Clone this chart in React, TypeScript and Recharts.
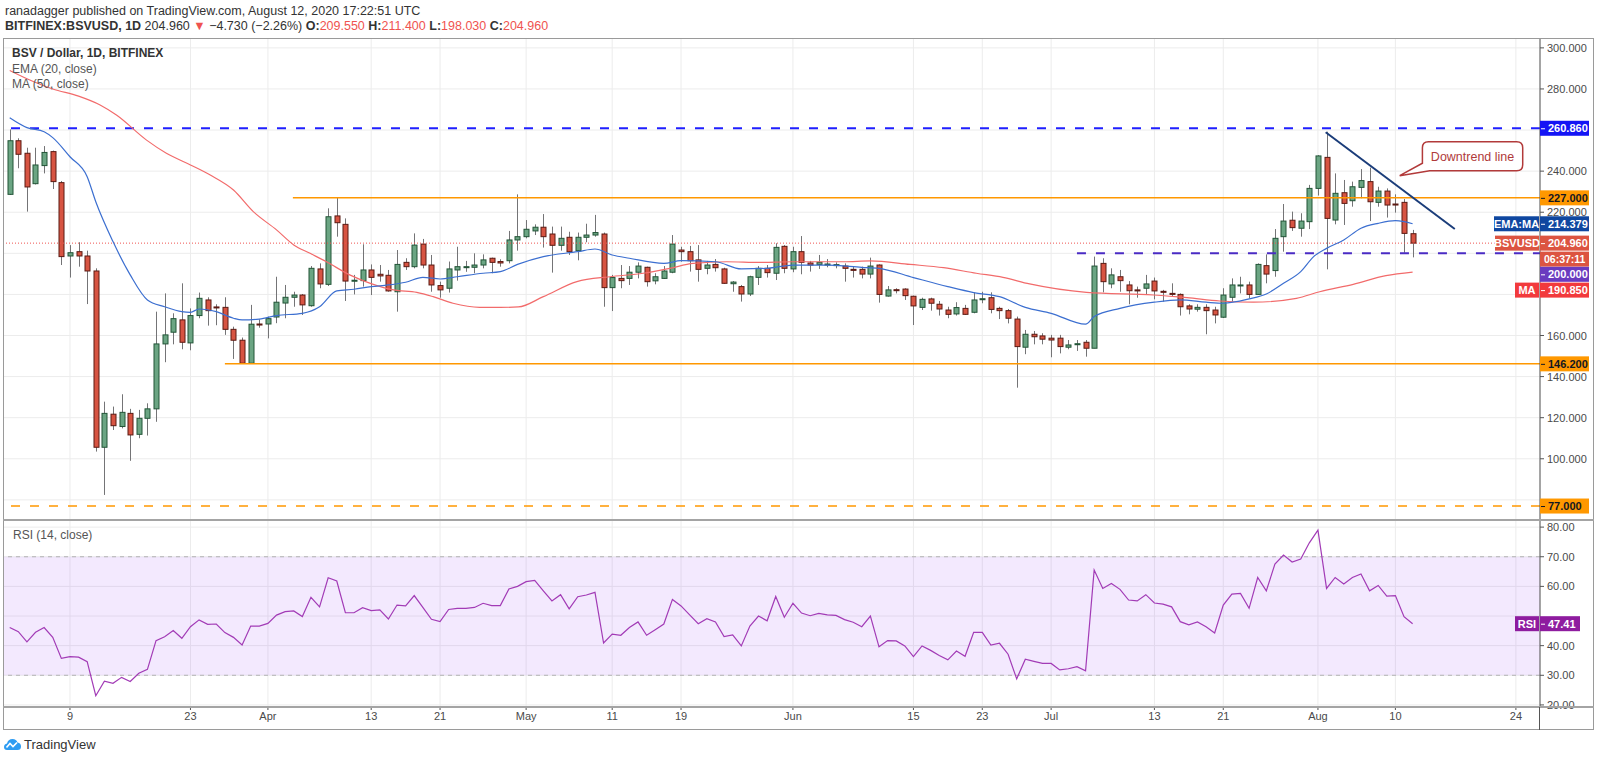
import React from 'react';
import {
  ComposedChart,
  Bar,
  Line,
  XAxis,
  YAxis,
  CartesianGrid,
  ReferenceLine,
  ReferenceDot,
  ReferenceArea,
} from 'recharts';

const FONT = "'Liberation Sans Narrow','Arial Narrow','Liberation Sans',Arial,sans-serif";

// day numbers count from 1 Mar 2020, first candle is 2 Mar
const firstDay = 1;
const X_MIN = 0.22;
const X_MAX = 178.8;

const opens = [
  228.7, 254.8, 248.7, 233.9, 242.7, 249.5, 234.4, 198.7, 200.8, 198.7,
  191.4, 105.6, 121.7, 115.7, 122.1, 111.9, 119.7, 124.3, 155.9, 161.6,
  167.6, 156.4, 169.7, 177.3, 173.9, 173.7, 163.0, 157.7, 146.5, 165.6,
  165.6, 169.0, 175.8, 178.6, 179.7, 174.5, 192.4, 184.9, 218.2, 214.1,
  186.5, 186.7, 191.9, 189.8, 189.3, 181.3, 195.6, 193.5, 204.5, 194.3,
  184.3, 183.0, 191.9, 193.2, 193.2, 194.3, 197.6, 196.0, 196.4, 206.5,
  208.1, 210.9, 212.7, 209.4, 203.9, 207.8, 201.3, 207.8, 208.9, 209.4,
  183.3, 187.8, 187.8, 190.8, 193.2, 186.6, 187.8, 190.8, 201.6, 200.8,
  196.8, 192.7, 194.6, 192.4, 185.2, 183.8, 180.2, 188.3, 192.7, 190.3,
  203.4, 192.4, 200.8, 195.3, 194.6, 194.6, 194.2, 193.8, 192.2, 192.2,
  189.9, 194.3, 179.2, 182.3, 182.6, 179.1, 173.7, 177.8, 175.2, 172.4,
  170.5, 173.2, 171.3, 177.6, 178.4, 173.2, 172.1, 168.0, 154.3, 160.6,
  159.8, 158.7, 158.7, 154.3, 155.9, 156.7, 153.8, 195.1, 185.1, 188.6,
  184.6, 182.2, 183.0, 186.5, 181.5, 180.5, 180.0, 174.4, 172.8, 173.7,
  172.4, 168.9, 178.6, 184.4, 184.6, 180.0, 194.0, 191.6, 208.1, 216.1,
  212.2, 215.4, 231.6, 246.7, 216.2, 229.5, 225.6, 232.1, 234.9, 224.8,
  230.3, 224.0, 224.8, 209.55,
];

const highs = [
  260.3, 256.0, 251.4, 251.4, 252.2, 250.0, 235.2, 204.0, 205.4, 201.3,
  192.7, 127.8, 125.4, 131.4, 124.3, 123.8, 127.0, 171.6, 180.5, 170.8,
  185.4, 173.2, 180.9, 178.6, 175.2, 178.6, 164.3, 159.0, 174.9, 167.9,
  169.2, 188.6, 184.6, 181.3, 180.2, 193.8, 195.1, 221.9, 227.1, 217.0,
  189.5, 204.4, 194.6, 194.3, 191.9, 201.6, 197.6, 209.7, 207.0, 199.2,
  186.2, 196.0, 203.2, 196.3, 200.0, 199.5, 197.9, 197.1, 210.9, 228.7,
  216.2, 214.1, 219.1, 213.0, 213.0, 210.5, 210.1, 214.4, 218.7, 210.1,
  189.5, 194.3, 193.8, 195.6, 193.5, 190.3, 193.8, 208.9, 203.2, 203.6,
  204.0, 196.3, 197.2, 193.0, 186.5, 184.6, 189.1, 193.8, 194.3, 204.9,
  204.0, 203.2, 208.4, 196.3, 199.2, 197.2, 195.6, 195.1, 193.5, 193.5,
  197.9, 194.6, 184.1, 183.0, 183.0, 179.4, 178.4, 178.4, 176.8, 174.0,
  176.2, 174.9, 180.9, 181.3, 181.0, 174.0, 172.9, 169.2, 162.7, 162.2,
  161.1, 160.3, 160.3, 157.8, 157.8, 157.8, 198.4, 197.6, 192.7, 191.9,
  186.5, 183.8, 189.5, 188.2, 182.2, 185.4, 180.5, 175.2, 175.2, 175.2,
  174.0, 183.0, 187.8, 188.6, 186.2, 195.1, 199.5, 211.8, 224.0, 220.3,
  219.5, 233.3, 247.8, 259.2, 238.9, 235.7, 234.9, 241.0, 241.7, 232.4,
  231.6, 228.7, 226.4, 211.4,
];

const lows = [
  228.4, 241.4, 220.3, 233.5, 238.9, 231.3, 194.3, 188.2, 193.5, 175.3,
  103.5, 82.4, 114.0, 114.8, 99.0, 110.0, 111.3, 118.0, 147.0, 155.7,
  153.3, 152.8, 168.4, 164.8, 165.0, 160.3, 148.6, 146.2, 146.2, 163.8,
  158.6, 166.0, 168.4, 174.0, 170.0, 174.0, 183.0, 184.1, 208.1, 176.8,
  180.0, 183.8, 179.7, 186.2, 181.3, 171.6, 191.9, 192.7, 192.7, 181.3,
  178.4, 180.9, 186.7, 191.0, 190.3, 192.7, 190.3, 193.5, 195.1, 201.3,
  207.3, 208.9, 202.8, 190.6, 201.3, 199.2, 196.6, 205.4, 208.1, 174.0,
  171.9, 183.0, 184.6, 187.8, 183.8, 184.9, 187.5, 190.3, 195.9, 191.1,
  186.2, 189.8, 191.1, 185.1, 181.3, 176.5, 179.2, 184.6, 188.2, 187.0,
  190.3, 190.8, 189.8, 191.1, 192.4, 193.2, 192.7, 186.2, 188.2, 187.8,
  187.8, 176.0, 178.9, 180.5, 177.3, 165.1, 172.4, 172.1, 169.7, 168.4,
  169.7, 170.0, 170.8, 175.7, 170.8, 168.0, 165.9, 134.6, 150.9, 155.7,
  155.7, 149.4, 151.3, 153.3, 152.5, 149.7, 153.8, 181.0, 183.0, 181.3,
  175.2, 178.4, 179.7, 177.6, 176.5, 178.9, 169.7, 170.3, 171.6, 160.6,
  165.9, 168.5, 176.5, 180.5, 178.1, 179.7, 185.4, 188.6, 200.8, 210.9,
  208.1, 211.8, 228.1, 192.2, 214.1, 213.8, 222.7, 226.8, 215.7, 222.7,
  217.4, 219.8, 200.3, 198.03,
];

const closes = [
  254.8, 248.2, 232.3, 243.0, 249.1, 234.9, 198.4, 200.3, 198.7, 191.4,
  105.6, 122.1, 116.1, 122.6, 111.6, 119.7, 124.3, 155.9, 160.3, 168.2,
  156.7, 169.7, 178.1, 172.1, 173.6, 163.0, 157.7, 146.5, 165.5, 165.1,
  168.2, 176.2, 178.6, 179.7, 174.9, 192.7, 185.1, 217.8, 214.9, 186.5,
  186.9, 191.9, 188.3, 189.0, 181.7, 194.6, 193.5, 204.0, 194.3, 184.6,
  182.2, 192.4, 193.5, 193.5, 194.3, 196.8, 195.6, 195.3, 206.5, 208.1,
  211.7, 212.7, 208.1, 203.9, 207.3, 200.8, 207.8, 208.9, 210.1, 183.3,
  188.2, 186.7, 190.8, 193.8, 186.2, 188.6, 191.4, 204.5, 200.8, 196.4,
  192.2, 194.3, 193.0, 185.4, 186.0, 180.2, 188.6, 192.7, 190.6, 202.9,
  192.7, 200.8, 195.6, 194.3, 195.6, 194.8, 194.5, 192.7, 191.7, 189.9,
  193.8, 180.0, 182.2, 182.1, 179.4, 174.4, 177.6, 175.7, 172.9, 170.3,
  173.6, 170.3, 177.3, 177.9, 172.7, 172.1, 168.4, 154.6, 160.6, 159.4,
  158.2, 157.8, 154.6, 155.4, 156.0, 153.8, 193.8, 186.2, 189.5, 186.7,
  181.8, 181.7, 185.1, 181.7, 181.3, 180.0, 174.0, 172.9, 173.7, 172.1,
  170.0, 179.7, 184.6, 184.6, 180.0, 194.6, 189.9, 207.3, 215.7, 212.5,
  215.7, 231.6, 247.4, 217.0, 229.2, 224.3, 232.4, 235.4, 225.1, 230.3,
  223.5, 223.5, 209.7, 204.96,
];

const rsi14 = [
  46.1, 44.7, 41.3, 44.5, 46.1, 42.8, 35.7, 36.3, 36.1, 34.6,
  23.1, 28.0, 27.3, 29.3, 27.9, 30.7, 32.0, 41.7, 43.0, 45.1,
  42.5, 46.4, 48.7, 47.2, 47.3, 44.4, 42.8, 40.2, 46.6, 46.6,
  47.5, 50.3, 51.5, 51.7, 49.8, 56.3, 53.1, 62.9, 61.8, 51.1,
  51.1, 52.8, 51.8, 52.1, 49.0, 53.7, 53.4, 56.9, 52.9, 48.9,
  48.1, 52.2, 52.6, 52.6, 52.9, 54.3, 53.5, 53.5, 59.1, 60.0,
  61.6, 62.0, 58.5, 55.1, 57.2, 52.4, 56.5, 57.1, 58.0, 40.9,
  43.9, 43.5, 46.1, 48.0, 43.5, 45.4, 47.3, 55.6, 53.4, 50.4,
  47.4, 49.1, 48.0, 43.1, 43.6, 39.9, 46.6, 50.0, 48.4, 56.6,
  49.6, 54.3, 51.0, 50.1, 50.9, 50.4, 50.2, 48.8, 47.9, 46.4,
  50.0, 39.6, 41.7, 41.6, 39.9, 36.3, 39.9, 38.4, 36.7, 35.2,
  38.2, 36.4, 44.5, 44.5, 40.2, 40.8, 37.1, 28.8, 35.4, 34.7,
  34.0, 34.0, 31.8, 32.2, 32.9, 31.5, 65.5, 59.3, 61.0, 59.0,
  55.4, 55.1, 57.2, 54.4, 54.0, 53.1, 48.1, 47.0, 48.0, 46.4,
  44.3, 53.7, 57.4, 57.6, 52.6, 63.0, 58.5, 67.5, 70.6, 68.2,
  69.2, 74.7, 79.0, 59.3, 63.0, 60.8, 63.0, 64.2, 58.5, 60.3,
  56.7, 56.9, 49.8, 47.41,
];

const ema20 = [
  [1, 266], [3, 261.2], [5, 259.2], [6, 256.3], [8, 247], [10, 237.3], [11, 225.1],
  [13, 205.7], [15, 189.5], [17, 177.3], [19, 174], [21, 171.6], [22, 171.3], [23, 172.9],
  [25, 171.6], [27, 168.4], [28, 167.6], [30, 168], [32, 169.7], [35, 170.8], [37, 174],
  [39, 181.7], [41, 182.5], [43, 183.8], [45, 184.6], [47, 185.9], [49, 188.3], [51, 187.5],
  [53, 188.6], [56, 190.3], [58, 191.1], [60, 194.6], [63, 198.4], [67, 200.8], [69, 202.1],
  [71, 199.2], [73, 197.6], [77, 195.1], [79, 196.4], [83, 195.9], [86, 192.4], [89, 192.7],
  [92, 194.3], [96, 194.3], [100, 193.2], [102, 192.7], [106, 188.2], [110, 183.8],
  [113, 180.9], [116, 178.9], [119, 173.7], [122, 170.8], [126, 165.5], [127, 169.2],
  [130, 173.2], [134, 176.2], [137, 177.3], [140, 176.2], [142, 175.7], [145, 177.8],
  [147, 180.2], [149, 185.4], [151, 191.1], [152.5, 198.4], [154, 202.4], [156, 206.5],
  [158, 212.2], [160, 214.6], [162, 215.9], [163, 215.4], [164, 214.379],
];

const ma50 = [
  [1, 289], [3, 285], [6, 280], [9, 276.5], [11.5, 272.2], [13.4, 267.3], [16.9, 255.1],
  [19.2, 248.7], [22, 243], [24.3, 238.1], [27, 230.8], [29.3, 220.3], [32, 211.4],
  [34, 204.1], [35.9, 200], [37.8, 195.9], [40.5, 189.5], [42.9, 185.4], [45.6, 182.2],
  [48.3, 181], [50.2, 178.9], [52.5, 175.7], [55.6, 173.7], [58, 173.7], [60.1, 173.9],
  [63, 178.9], [66.9, 186.2], [70.7, 188.6], [74.6, 190.3], [77.7, 192.7], [80.4, 195.1],
  [84.3, 195.9], [88.2, 195.6], [92, 195.9], [97.9, 195.9], [101, 196.3], [105.6, 194.6],
  [109.5, 193], [113.3, 190.3], [116.4, 188.3], [119.5, 185.1], [126.1, 181], [133.9, 179.7],
  [137.8, 178.4], [141.6, 176.8], [145.5, 176.2], [150.5, 178.1], [153.2, 181.3],
  [157.1, 184.9], [160.9, 189.1], [164, 190.85],
];

const xTicks = [8, 22, 31, 43, 51, 61, 71, 79, 92, 106, 114, 122, 134, 142, 153, 162, 176];
const xTickLabels = ['9', '23', 'Apr', '13', '21', 'May', '11', '19', 'Jun', '15', '23', 'Jul', '13', '21', 'Aug', '10', '24'];
const priceTicks = [80, 100, 120, 140, 160, 180, 200, 220, 240, 260, 280, 300];
const rsiTicks = [20, 30, 40, 50, 60, 70, 80];
// scale labels covered by the coloured price tags
const coveredPriceTicks = [80, 180, 200, 260];
const coveredRsiTicks = [50];

const resistanceTop = 260.86;
const rangeTop = 227;
const rangeBottom = 146.2;
const pivot = 200;
const marchLow = 77;
const lastClose = 204.96;
const lastEma = 214.379;
const lastMa = 190.85;
const lastRsi = 47.41;
const downtrend = [
  { x: 153.9, y: 258.9 },
  { x: 168.9, y: 211.8 },
];

const rows = opens.map((o, i) => ({
  d: firstDay + i,
  o,
  h: highs[i],
  l: lows[i],
  c: closes[i],
  range: [lows[i], highs[i]],
  rsi: rsi14[i],
}));
const emaData = ema20.map(([d, v]) => ({ d, v }));
const maData = ma50.map(([d, v]) => ({ d, v }));

const UP = '#6ba583';
const UP_EDGE = '#225437';
const DOWN = '#d75442';
const DOWN_EDGE = '#5b1a13';

const Candle = (props: any) => {
  const { x, y, width, height, payload } = props;
  if (!payload) return null;
  const { o, h, l, c } = payload;
  const k = h - l > 0 ? height / (h - l) : 0;
  const py = (v: number) => y + (h - v) * k;
  const top = py(Math.max(o, c));
  const bot = py(Math.min(o, c));
  const cx = Math.round(x + width / 2) + 0.5;
  const up = c >= o;
  return (
    <g>
      <line x1={cx} x2={cx} y1={y} y2={y + height} stroke="#747476" strokeWidth={1} />
      <rect
        x={cx - 2.5}
        y={top}
        width={5}
        height={Math.max(bot - top, 1)}
        fill={up ? UP : DOWN}
        stroke={up ? UP_EDGE : DOWN_EDGE}
        strokeWidth={1}
      />
    </g>
  );
};

const scaleTick = (covered: number[], digits: number) => (p: any) => {
  const v = p.payload.value;
  if (covered.includes(v)) return null;
  return (
    <g>
      <line x1={p.x - 6} x2={p.x - 2} y1={p.y} y2={p.y} stroke="#555" />
      <text x={p.x + 1} y={p.y} dy={4} fill="#4a4a4a" fontSize={11} style={{ fontFamily: FONT }}>
        {v.toFixed(digits)}
      </text>
    </g>
  );
};

// price tag on the right scale, optional name tag left of the axis
const badge =
  (text: string, bg: string, fg: string, dy = 0, w = 49, tag?: string, tagW = 0, mark = true) =>
  (p: any) => {
    const x0 = p.cx;
    const y0 = p.cy + dy;
    return (
      <g style={{ fontFamily: FONT }}>
        {tag && (
          <g>
            <rect x={x0 - tagW - 1} y={y0 - 7.5} width={tagW} height={15} fill={bg} />
            <text x={x0 - tagW / 2 - 1} y={y0 + 4} fill="#fff" fontSize={11} fontWeight={700} textAnchor="middle">
              {tag}
            </text>
          </g>
        )}
        <rect x={x0} y={y0 - 7.5} width={w} height={15} fill={bg} />
        {mark && <line x1={x0 + 1} x2={x0 + 5} y1={y0 + 0.5} y2={y0 + 0.5} stroke={fg} />}
        <text x={x0 + (mark ? 8 : 4)} y={y0 + 4} fill={fg} fontSize={mark ? 11 : 10.5} fontWeight={600}>
          {text}
        </text>
      </g>
    );
  };

const Callout = (p: any) => {
  const { cx, cy } = p;
  const L = 22.7;
  const R = 123;
  const T = -34;
  const B = -5;
  const r = 6;
  const d = `M${cx + L},${cy + T + r} Q${cx + L},${cy + T} ${cx + L + r},${cy + T} H${cx + R - r} Q${cx + R},${cy + T} ${cx + R},${cy + T + r} V${cy + B - r} Q${cx + R},${cy + B} ${cx + R - r},${cy + B} H${cx + 30} L${cx},${cy} L${cx + L},${cy - 12.4} Z`;
  return (
    <g>
      <path d={d} fill="#fff" stroke="#b23a3a" strokeWidth={1.5} />
      <text
        x={cx + (L + R) / 2}
        y={cy + (T + B) / 2 + 4.5}
        fill="#b03a3a"
        fontSize={12.5}
        textAnchor="middle"
        style={{ fontFamily: FONT }}
      >
        Downtrend line
      </text>
    </g>
  );
};

const axisTick = { fill: '#4a4a4a', fontSize: 11, fontFamily: FONT };

export default function App() {
  return (
    <div style={{ position: 'relative', width: 1600, height: 763, background: '#fff', fontFamily: FONT, color: '#333' }}>
      <style>{'body{margin:0}'}</style>

      <div style={{ position: 'absolute', left: 5, top: 4, fontSize: 12.5, whiteSpace: 'nowrap' }}>
        ranadagger published on TradingView.com, August 12, 2020 17:22:51 UTC
      </div>
      <div style={{ position: 'absolute', left: 5, top: 19, fontSize: 12.5, whiteSpace: 'nowrap' }}>
        <b>BITFINEX:BSVUSD, 1D</b> 204.960 <span style={{ color: '#ef5350' }}>▼</span> −4.730 (−2.26%){' '}
        <b>O:</b><span style={{ color: '#ef5350' }}>209.550</span> <b>H:</b>
        <span style={{ color: '#ef5350' }}>211.400</span> <b>L:</b>
        <span style={{ color: '#ef5350' }}>198.030</span> <b>C:</b>
        <span style={{ color: '#ef5350' }}>204.960</span>
      </div>

      <div style={{ position: 'absolute', left: 3, top: 38 }}>
        <ComposedChart width={1591} height={482} data={rows} margin={{ top: 0, right: 0, bottom: 0, left: 0 }}>
          <CartesianGrid stroke="#ececec" />
          <XAxis dataKey="d" type="number" domain={[X_MIN, X_MAX]} ticks={xTicks} allowDataOverflow hide />
          <YAxis
            orientation="right"
            width={54}
            type="number"
            domain={[70.2, 304.8]}
            ticks={priceTicks}
            interval={0}
            allowDataOverflow
            tick={scaleTick(coveredPriceTicks, 3)}
            tickSize={4}
            tickLine={false}
            axisLine={{ stroke: '#555' }}
          />
          <ReferenceLine y={resistanceTop} stroke="#1f1fff" strokeWidth={2} strokeDasharray="9 10" />
          <ReferenceLine y={marchLow} stroke="#ff9800" strokeWidth={1.5} strokeDasharray="9 10" />
          <ReferenceLine
            segment={[{ x: 33.9, y: rangeTop }, { x: X_MAX, y: rangeTop }]}
            stroke="#ff9800"
            strokeWidth={1.5}
          />
          <ReferenceLine
            segment={[{ x: 26, y: rangeBottom }, { x: X_MAX, y: rangeBottom }]}
            stroke="#ff9800"
            strokeWidth={1.5}
          />
          <ReferenceLine
            segment={[{ x: 125, y: pivot }, { x: X_MAX, y: pivot }]}
            stroke="#4a2bc4"
            strokeWidth={2}
            strokeDasharray="9 10"
          />
          <ReferenceLine y={lastClose} stroke="#ef5350" strokeWidth={1} strokeDasharray="1 2" />
          <Line data={maData} dataKey="v" type="monotone" stroke="#f26b6b" strokeWidth={1.2} dot={false} isAnimationActive={false} />
          <Line data={emaData} dataKey="v" type="monotone" stroke="#3c6fd0" strokeWidth={1.2} dot={false} isAnimationActive={false} />
          <Bar dataKey="range" barSize={6} shape={<Candle />} isAnimationActive={false} />
          <ReferenceLine segment={downtrend} stroke="#1b3d7a" strokeWidth={2} />
          <ReferenceDot x={162.5} y={237.8} r={0} ifOverflow="visible" shape={<Callout />} />
          <ReferenceDot x={X_MAX} y={resistanceTop} r={0} ifOverflow="visible" shape={badge('260.860', '#1414f5', '#fff')} />
          <ReferenceDot x={X_MAX} y={rangeTop} r={0} ifOverflow="visible" shape={badge('227.000', '#ff9800', '#131722')} />
          <ReferenceDot x={X_MAX} y={lastEma} r={0} ifOverflow="visible" shape={badge('214.379', '#0f47a0', '#fff', 0, 49, 'EMA:MA', 45)} />
          <ReferenceDot x={X_MAX} y={lastClose} r={0} ifOverflow="visible" shape={badge('204.960', '#dc5441', '#fff', 0, 49, 'BSVUSD', 44)} />
          <ReferenceDot x={X_MAX} y={lastClose} r={0} ifOverflow="visible" shape={badge('06:37:11', '#dc5441', '#fff', 16, 49, undefined, 0, false)} />
          <ReferenceDot x={X_MAX} y={pivot} r={0} ifOverflow="visible" shape={badge('200.000', '#6a3bbf', '#fff', 21)} />
          <ReferenceDot x={X_MAX} y={lastMa} r={0} ifOverflow="visible" shape={badge('190.850', '#f23a3c', '#fff', 18, 49, 'MA', 24)} />
          <ReferenceDot x={X_MAX} y={rangeBottom} r={0} ifOverflow="visible" shape={badge('146.200', '#ff9800', '#131722')} />
          <ReferenceDot x={X_MAX} y={marchLow} r={0} ifOverflow="visible" shape={badge('77.000', '#ff9800', '#131722')} />
        </ComposedChart>
      </div>

      <div style={{ position: 'absolute', left: 3, top: 520 }}>
        <ComposedChart width={1591} height={210} data={rows} margin={{ top: 0, right: 0, bottom: 0, left: 0 }}>
          <CartesianGrid stroke="#ececec" />
          <XAxis
            dataKey="d"
            type="number"
            domain={[X_MIN, X_MAX]}
            ticks={xTicks}
            interval={0}
            allowDataOverflow
            height={23}
            tickFormatter={(v: number) => xTickLabels[xTicks.indexOf(v)] ?? ''}
            tick={axisTick}
            tickSize={3}
            tickLine={{ stroke: '#555' }}
            axisLine={false}
          />
          <YAxis
            orientation="right"
            width={54}
            type="number"
            domain={[19.3, 82.4]}
            ticks={rsiTicks}
            interval={0}
            allowDataOverflow
            tick={scaleTick(coveredRsiTicks, 2)}
            tickSize={4}
            tickLine={false}
            axisLine={{ stroke: '#555' }}
          />
          <ReferenceArea y1={30} y2={70} fill="#8e24fa" fillOpacity={0.1} stroke="none" />
          <ReferenceLine y={70} stroke="#b4b4b4" strokeDasharray="4 4" />
          <ReferenceLine y={30} stroke="#b4b4b4" strokeDasharray="4 4" />
          <Line dataKey="rsi" type="linear" stroke="#a23bb6" strokeWidth={1.2} dot={false} isAnimationActive={false} />
          <ReferenceDot x={X_MAX} y={lastRsi} r={0} ifOverflow="visible" shape={badge('47.41', '#8e1c9f', '#fff', 0, 40, 'RSI', 24)} />
        </ComposedChart>
      </div>

      {/* pane frame */}
      <div style={{ position: 'absolute', left: 3, top: 38, width: 1591, height: 692, border: '1px solid #9a9a9a', boxSizing: 'border-box', pointerEvents: 'none' }} />
      <div style={{ position: 'absolute', left: 3, top: 519, width: 1591, height: 2, background: '#a4a4a4' }} />
      <div style={{ position: 'absolute', left: 3, top: 706, width: 1591, height: 2, background: '#a4a4a4' }} />
      <div style={{ position: 'absolute', left: 1539, top: 707, width: 1, height: 23, background: '#555' }} />

      <div style={{ position: 'absolute', left: 12, top: 46, fontSize: 12, fontWeight: 700, color: '#333', whiteSpace: 'nowrap' }}>
        BSV / Dollar, 1D, BITFINEX
      </div>
      <div style={{ position: 'absolute', left: 12, top: 62, fontSize: 12, color: '#555', whiteSpace: 'nowrap' }}>EMA (20, close)</div>
      <div style={{ position: 'absolute', left: 12, top: 77, fontSize: 12, color: '#555', whiteSpace: 'nowrap' }}>MA (50, close)</div>
      <div style={{ position: 'absolute', left: 13, top: 528, fontSize: 12, color: '#555', whiteSpace: 'nowrap' }}>RSI (14, close)</div>

      <div style={{ position: 'absolute', left: 4, top: 737, display: 'flex', alignItems: 'center', gap: 3 }}>
        <svg width={17} height={13} viewBox="0 0 17 13">
          <path d="M3 12 Q0 12 0 9 Q0 6 3 5.5 Q4 1 8.5 1 Q12.5 1 13.5 4.5 Q17 5 17 8.5 Q17 12 13.5 12 Z" fill="#2e9cf2" />
          <path d="M2.5 9.5 L6 5.5 L9 8.5 L13 4.5" stroke="#fff" strokeWidth={1.6} fill="none" />
        </svg>
        <span style={{ fontSize: 13, color: '#333' }}>TradingView</span>
      </div>
    </div>
  );
}
